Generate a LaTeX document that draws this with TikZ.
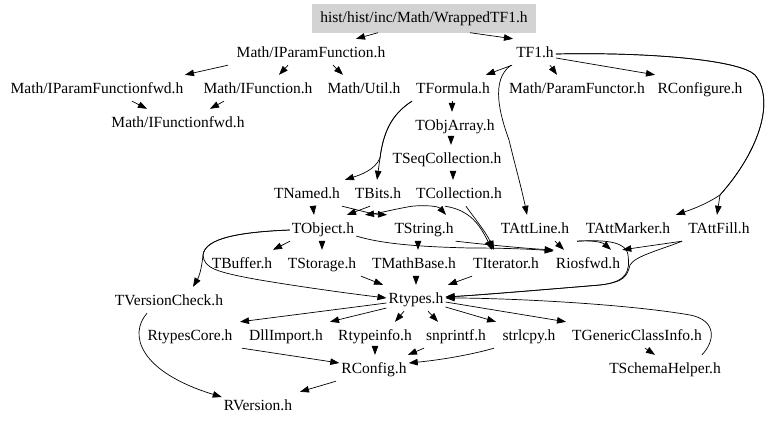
\documentclass[tikz,border=0pt]{standalone}
\usepackage{fontspec}
\setmainfont{Liberation Serif}
\usetikzlibrary{arrows.meta}
\definecolor{boxgrey}{RGB}{211,211,211}
\tikzset{
  hnode/.style={inner xsep=2pt, inner ysep=0pt, minimum height=26pt, text height=12pt, text depth=2pt, font=\fontsize{15.5}{18}\selectfont},
  rootbox/.style={hnode, fill=boxgrey, minimum width=224pt, minimum height=29pt},
  dep/.style={draw=black, line width=0.7pt, -{Triangle[length=9pt,width=6.5pt]}}
}
\begin{document}
\begin{tikzpicture}[x=1pt,y=-1pt]
\useasboundingbox (0,0) rectangle (768,423);
% nodes
\node[rootbox] (wrapped) at (424,18) {hist/hist/inc/Math/WrappedTF1.h};
\node[hnode] (ipf) at (311,52) {Math/IParamFunction.h};
\node[hnode] (tf1) at (535,52) {TF1.h};
\node[hnode] (ipffwd) at (97,88) {Math/IParamFunctionfwd.h};
\node[hnode] (ifun) at (258,88) {Math/IFunction.h};
\node[hnode] (util) at (364,88) {Math/Util.h};
\node[hnode] (tformula) at (453,88) {TFormula.h};
\node[hnode] (pfunctor) at (577,88) {Math/ParamFunctor.h};
\node[hnode] (rconfigure) at (700,88) {RConfigure.h};
\node[hnode] (ifunfwd) at (178,122) {Math/IFunctionfwd.h};
\node[hnode] (tobjarray) at (455,125) {TObjArray.h};
\node[hnode] (tseqcoll) at (447,158) {TSeqCollection.h};
\node[hnode] (tnamed) at (307,193) {TNamed.h};
\node[hnode] (tbits) at (378,193) {TBits.h};
\node[hnode] (tcoll) at (459,193) {TCollection.h};
\node[hnode] (tobject) at (323,228) {TObject.h};
\node[hnode] (tstring) at (424,228) {TString.h};
\node[hnode] (tattline) at (535,228) {TAttLine.h};
\node[hnode] (tattmarker) at (628,228) {TAttMarker.h};
\node[hnode] (tattfill) at (719,228) {TAttFill.h};
\node[hnode] (tbuffer) at (242,263) {TBuffer.h};
\node[hnode] (tstorage) at (322,263) {TStorage.h};
\node[hnode] (tmathbase) at (414,263) {TMathBase.h};
\node[hnode] (titerator) at (506,263) {TIterator.h};
\node[hnode] (riosfwd) at (588,263) {Riosfwd.h};
\node[hnode] (tversion) at (169,300) {TVersionCheck.h};
\node[hnode] (rtypes) at (416,298) {Rtypes.h};
\node[hnode] (rtypescore) at (190,335) {RtypesCore.h};
\node[hnode] (dllimport) at (286,335) {DllImport.h};
\node[hnode] (rtypeinfo) at (375,335) {Rtypeinfo.h};
\node[hnode] (snprintf) at (456,335) {snprintf.h};
\node[hnode] (strlcpy) at (529,335) {strlcpy.h};
\node[hnode] (tgci) at (637,335) {TGenericClassInfo.h};
\node[hnode] (rconfig) at (374,368) {RConfig.h};
\node[hnode] (tschema) at (665,368) {TSchemaHelper.h};
\node[hnode] (rversion) at (258,405) {RVersion.h};
% top edges
\draw[dep] (wrapped.south -| 378,0) -- (ipf.north -| 356,0);
\draw[dep] (wrapped.south -| 470,0) -- (tf1.north -| 513,0);
\draw[dep] (ipf.south -| 228,0) -- (ipffwd.north -| 185,0);
\draw[dep] (ipf.south -| 288,0) -- (ifun.north -| 279,0);
\draw[dep] (ipf.south -| 333,0) -- (util.north -| 343,0);
\draw[dep] (ipffwd.south -| 132,0) -- (ifunfwd.north -| 147,0);
\draw[dep] (ifun.south -| 224,0) -- (ifunfwd.north -| 210,0);
\draw[dep] (tf1.south -| 512,0) -- (tformula.north -| 486,0);
\draw[dep] (tf1.south -| 550,0) -- (pfunctor.north -| 557,0);
\draw[dep] (tf1.east |- 0,58) -- (rconfigure.north -| 655,0);
\draw[dep] (tf1.south -| 511,0) .. controls (490,80) and (500,115) .. (509,140) .. controls (515,165) and (522,190) .. (tattline.north -| 527,0);
\draw[dep] (tf1.east |- 0,54) .. controls (650,52) and (740,60) .. (755,75) .. controls (775,100) and (760,150) .. (720,195) .. controls (705,205) and (690,210) .. (tattmarker.north -| 676,0);
\draw[dep] (tf1.east |- 0,54) .. controls (650,52) and (740,60) .. (755,75) .. controls (775,100) and (760,150) .. (720,195) -- (tattfill.north -| 717,0);
\draw[dep] (tformula.south -| 452,0) -- (tobjarray.north -| 452,0);
\draw[dep] (tformula.south -| 412,0) .. controls (390,115) and (383,135) .. (380,158) .. controls (375,170) and (360,175) .. (tnamed.north -| 345,0);
\draw[dep] (tformula.south -| 412,0) .. controls (390,115) and (383,135) .. (380,158) -- (tbits.north -| 377,0);
\draw[dep] (tobjarray.south -| 451,0) -- (tseqcoll.north -| 451,0);
\draw[dep] (tseqcoll.south -| 453,0) -- (tcoll.north -| 453,0);
% middle edges
\draw[dep] (tnamed.south -| 313,0) -- (tobject.north -| 314,0);
\draw[dep] (tbits.south -| 370,0) -- (tobject.north -| 347,0);
\draw[dep] (tnamed.south -| 342,0) .. controls (358,210) and (372,214) .. (tstring.north -| 387,0);
\draw[dep] (tcoll.south -| 412,0) .. controls (395,209) and (380,213) .. (tobject.north -| 365,0);
\draw[dep] (tcoll.south -| 412,0) .. controls (425,205) and (438,206) .. (tstring.north -| 446,0);
\draw[dep] (tcoll.south -| 466,0) .. controls (472,215) and (486,232) .. (titerator.north -| 494,0);
\draw[dep] (tcoll.south -| 445,0) .. controls (470,210) and (480,225) .. (titerator.north -| 492,0);
\draw[dep] (tobject.south -| 290,0) -- (tbuffer.north -| 273,0);
\draw[dep] (tobject.south -| 322,0) -- (tstorage.north -| 322,0);
\draw[dep] (tobject.west |- 0,230) .. controls (240,232) and (205,238) .. (203,255) .. controls (202,265) and (200,275) .. (tversion.north -| 193,0);
\draw[dep] (tobject.west |- 0,230) .. controls (240,232) and (205,238) .. (203,255) .. controls (204,268) and (215,272) .. (260,280) .. controls (320,290) and (370,296) .. (rtypes.west |- 0,298);
\draw[dep] (tobject.east |- 0,236) .. controls (385,245) and (430,247) .. (470,248) .. controls (500,248) and (530,249) .. (riosfwd.west |- 0,251);
\draw[dep] (tstring.south -| 418,0) -- (tmathbase.north -| 418,0);
\draw[dep] (tstring.south east) .. controls (490,245) and (520,248) .. (riosfwd.west |- 0,250);
\draw[dep] (tattline.south -| 555,0) -- (riosfwd.north -| 564,0);
\draw[dep] (tattmarker.south -| 577,0) .. controls (590,240) and (602,242) .. (riosfwd.north -| 611,0);
\draw[dep] (tattmarker.south -| 577,0) .. controls (600,240) and (626,240) .. (628,255) .. controls (630,270) and (628,282) .. (600,285) .. controls (540,290) and (480,295) .. (rtypes.east |- 0,297);
\draw[dep] (tattfill.south -| 682,0) -- (riosfwd.north east);
\draw[dep] (tattfill.south -| 682,0) .. controls (660,250) and (635,256) .. (630,265) .. controls (627,276) and (625,282) .. (600,285) .. controls (540,290) and (480,295) .. (rtypes.east |- 0,297);
\draw[dep] (tstorage.south -| 361,0) -- (rtypes.north -| 383,0);
\draw[dep] (tmathbase.south -| 416,0) -- (rtypes.north -| 416,0);
\draw[dep] (titerator.south -| 472,0) -- (rtypes.north -| 448,0);
% lower edges
\draw[dep] (rtypes.west |- 0,303) -- (rtypescore.north -| 240,0);
\draw[dep] (rtypes.west |- 0,308) -- (dllimport.north -| 330,0);
\draw[dep] (rtypes.south -| 404,0) -- (rtypeinfo.north -| 395,0);
\draw[dep] (rtypes.south -| 428,0) -- (snprintf.north -| 438,0);
\draw[dep] (rtypes.east |- 0,307) -- (strlcpy.north -| 496,0);
\draw[dep] (rtypes.east |- 0,302) -- (tgci.north -| 566,0);
\draw[dep] (rtypeinfo.south -| 375,0) -- (rconfig.north -| 375,0);
\draw[dep] (rtypescore.south -| 242,0) -- (rconfig.west |- 0,363);
\draw[dep] (snprintf.south -| 424,0) -- (rconfig.north -| 408,0);
\draw[dep] (strlcpy.south -| 494,0) .. controls (470,355) and (440,360) .. (rconfig.east |- 0,363);
\draw[dep] (tgci.south -| 645,0) -- (tschema.north -| 655,0);
\draw[dep] (tschema.north -| 702,0) .. controls (716,340) and (716,320) .. (690,315) .. controls (620,303) and (500,298) .. (rtypes.east |- 0,298);
\draw[dep] (rconfig.south -| 336,0) -- (rversion.north -| 300,0);
\draw[dep] (tversion.south -| 147,0) .. controls (128,335) and (140,372) .. (rversion.west |- 0,397);
\end{tikzpicture}
\end{document}
